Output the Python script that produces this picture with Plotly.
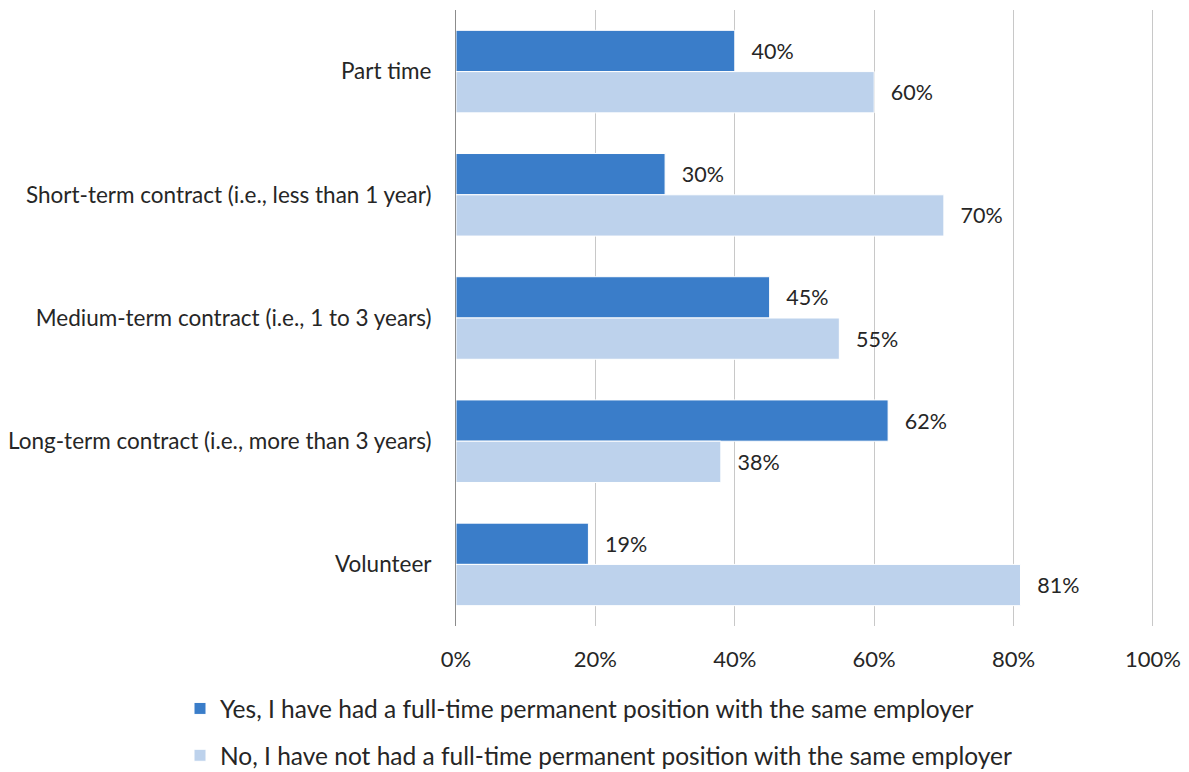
import plotly.graph_objects as go

categories = [
    "Part time",
    "Short-term contract (i.e., less than 1 year)",
    "Medium-term contract (i.e., 1 to 3 years)",
    "Long-term contract (i.e., more than 3 years)",
    "Volunteer",
]
yes_values = [40, 30, 45, 62, 19]
no_values = [60, 70, 55, 38, 81]
yes_name = "Yes, I have had a full-time permanent position with the same employer"
no_name = "No, I have not had a full-time permanent position with the same employer"
x_ticks = [0, 20, 40, 60, 80, 100]
x_tick_labels = ["0%", "20%", "40%", "60%", "80%", "100%"]

FONT = "Lato, 'Open Sans', sans-serif"
TEXT = "#262626"
PAD = "  \u2009"

yes_bar = go.Bar(
    y=categories, x=yes_values, orientation="h", name=yes_name,
    marker=dict(color="#3A7DC9", line=dict(color="white", width=1)),
    text=[PAD + "%d%%" % v for v in yes_values], textposition="outside",
    textfont=dict(size=21.5, color=TEXT), cliponaxis=False,
    legendgroup="yes",
)
no_bar = go.Bar(
    y=categories, x=no_values, orientation="h", name=no_name,
    marker=dict(color="#BDD2EC", line=dict(color="white", width=1)),
    text=[PAD + "%d%%" % v for v in no_values], textposition="outside",
    textfont=dict(size=21.5, color=TEXT), cliponaxis=False,
    legendgroup="no",
)

fig = go.Figure(data=[yes_bar, no_bar])
fig.update_layout(
    width=1189, height=772,
    margin=dict(l=456, r=35, t=10, b=146, autoexpand=False),
    paper_bgcolor="white", plot_bgcolor="white",
    font=dict(family=FONT, size=22.5, color=TEXT),
    barmode="group", bargap=0.33, bargroupgap=0,
    legend=dict(
        orientation="v", traceorder="grouped",
        xref="container", yref="container",
        x=180 / 1189, y=1 - 686 / 772, xanchor="left", yanchor="top",
        font=dict(size=24.5, color=TEXT), tracegroupgap=12,
        itemwidth=30,
    ),
)
fig.update_xaxes(
    range=[0, 100.15], tickvals=x_ticks, ticktext=x_tick_labels,
    showgrid=True, gridcolor="#C8C8C8", gridwidth=1,
    zeroline=False, showline=False,
    ticks="outside", ticklen=14, tickcolor="rgba(0,0,0,0)",
    tickfont=dict(size=22, color=TEXT),
)
fig.update_yaxes(
    autorange="reversed", showline=True, linecolor="#8C8C8C", linewidth=1,
    ticks="outside", ticklen=19, tickcolor="rgba(0,0,0,0)",
    tickfont=dict(size=22.5, color=TEXT),
)

fig.write_html(
    "out.html",
    config={"displayModeBar": False},
    post_script="document.body.style.margin='0';document.body.style.padding='0';",
)
